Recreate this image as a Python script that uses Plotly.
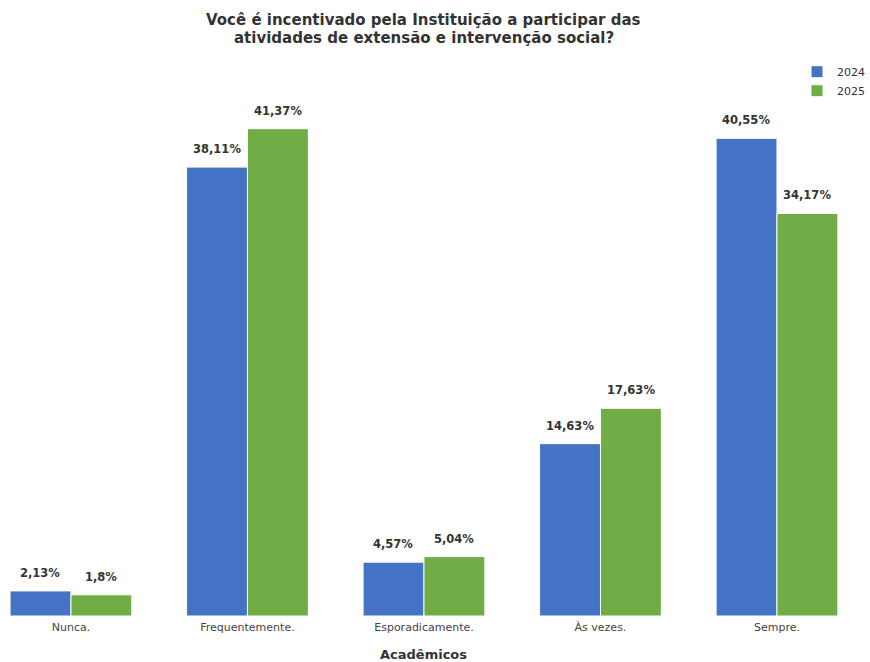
import plotly.graph_objects as go

categories = ["Nunca.", "Frequentemente.", "Esporadicamente.", "Às vezes.", "Sempre."]
years = ["2024", "2025"]
values_2024 = [2.13, 38.11, 4.57, 14.63, 40.55]
values_2025 = [1.80, 41.37, 5.04, 17.63, 34.17]
colors = ["#4472C4", "#70AD47"]

title_lines = ["Você é incentivado pela Instituição a participar das",
               "atividades de extensão e intervenção social?"]
xlabel = "Acadêmicos"

FONT = "DejaVu Sans"

fig = go.Figure()
for yr, vals, col in zip(years, [values_2024, values_2025], colors):
    fig.add_trace(go.Bar(
        x=categories, y=vals, name=yr,
        marker=dict(color=col, line=dict(color="white", width=1)),
        hoverinfo="skip",
    ))

annotations = []
for i, (yr, vals) in enumerate(zip(years, [values_2024, values_2025])):
    shift = -30.5 if i == 0 else 30.5
    for c, v in zip(categories, vals):
        annotations.append(dict(
            x=c, y=v, xref="x", yref="y",
            text=f"{v:g}".replace(".", ",") + "%",
            showarrow=False, xshift=shift, yshift=18, yanchor="middle",
            font=dict(family=FONT, size=11.5, color="#333333", weight="bold"),
        ))

for k, line in enumerate(title_lines):
    annotations.append(dict(
        x=categories[2], xref="x", y=1, yref="paper", yshift=40 - 18 * k, yanchor="middle",
        text="<b>" + line + "</b>", showarrow=False,
        font=dict(family=FONT, size=15, color="#333333"),
    ))
annotations.append(dict(
    x=categories[2], xref="x", y=0, yref="paper", yshift=-38, yanchor="middle",
    text="<b>" + xlabel + "</b>", showarrow=False,
    font=dict(family=FONT, size=13, color="#333333"),
))

fig.update_layout(
    width=870, height=662,
    margin=dict(l=0, r=0, t=60, b=46),
    plot_bgcolor="white", paper_bgcolor="white",
    barmode="group", bargap=0.31, bargroupgap=0,
    font=dict(family=FONT, size=11, color="#444444"),
    xaxis=dict(range=[-0.402, 4.527], showgrid=False, showline=False, zeroline=False,
               ticks="", ticklabelstandoff=3,
               tickfont=dict(family=FONT, size=11, color="#444444")),
    yaxis=dict(range=[0, 47.2], visible=False),
    legend=dict(x=1, y=1.005, xanchor="right", yanchor="top",
                font=dict(family=FONT, size=11, color="#333333"),
                bgcolor="rgba(0,0,0,0)", tracegroupgap=0, itemwidth=30),
    annotations=annotations,
    showlegend=True,
)

fig.write_html("out.html", config={"displayModeBar": False},
               post_script="document.body.style.margin='0';")
